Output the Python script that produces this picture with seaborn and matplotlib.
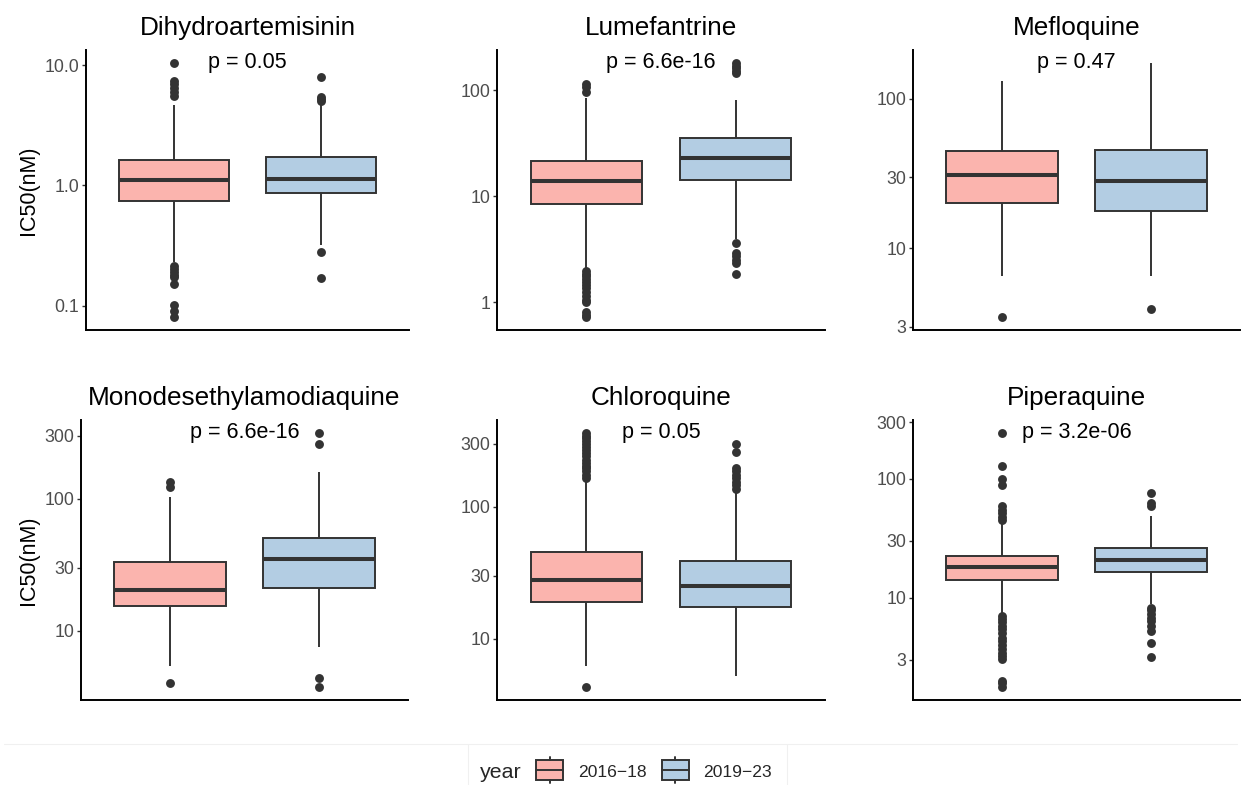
import matplotlib
matplotlib.use('Agg')
import matplotlib.pyplot as plt
from matplotlib.legend_handler import HandlerBase
from matplotlib.patches import Rectangle, Patch
from matplotlib.lines import Line2D
from matplotlib.ticker import NullLocator
import pandas as pd
import seaborn as sns

W, H = 1241, 785

YEARS = ['2016−18', '2019−23']
FILLS = ['#FBB4AE', '#B3CDE3']
EDGE = '#333333'

DRUGS = ['Dihydroartemisinin', 'Lumefantrine', 'Mefloquine',
         'Monodesethylamodiaquine', 'Chloroquine', 'Piperaquine']
P_LABELS = ['p = 0.05', 'p = 6.6e-16', 'p = 0.47',
            'p = 6.6e-16', 'p = 0.05', 'p = 3.2e-06']

# box statistics, one pair [2016-18, 2019-23] per drug
Q1 = [[0.74, 0.87], [8.4, 14.3], [20.0, 17.7], [15.4, 21.1], [18.9, 17.3], [14.2, 16.5]]
MEDIAN = [[1.10, 1.14], [13.8, 23.0], [30.8, 28.3], [20.3, 35.3], [27.7, 25.0], [18.0, 20.7]]
Q3 = [[1.62, 1.71], [21.6, 35.2], [44.8, 45.7], [33.3, 50.6], [45.1, 38.7], [22.3, 25.9]]
WHISK_LO = [[0.23, 0.32], [2.1, 3.9], [6.5, 6.5], [5.4, 7.5], [6.2, 5.2], [7.3, 8.8]]
WHISK_HI = [[4.7, 4.7], [84, 80], [131, 174], [104, 161], [156, 128], [42.6, 48.3]]

OUTLIERS = [
    [[0.080, 0.091, 0.101, 0.15, 0.172, 0.18, 0.19, 0.20, 0.214, 5.5, 6.0, 6.5, 7.0, 7.4, 10.5],
     [0.171, 0.28, 5.0, 5.2, 5.4, 8.0]],
    [[0.72, 0.75, 0.80, 1.0, 1.05, 1.15, 1.25, 1.35, 1.45, 1.55, 1.65, 1.75, 1.85, 1.95,
      96, 108, 113],
     [1.86, 2.35, 2.5, 2.7, 2.9, 3.6, 145, 152, 160, 170, 181]],
    [[3.47], [3.94]],
    [[4.04, 124, 135], [3.74, 4.37, 259, 317]],
    [[4.3, 165, 175, 185, 195, 205, 215, 225, 240, 255, 270, 285, 300, 315, 330, 345, 363],
     [135, 145, 155, 165, 175, 185, 195, 259, 297]],
    [[1.76, 1.9, 2.0, 3.05, 3.2, 3.4, 3.7, 4.0, 4.3, 4.6, 5.0, 5.4, 5.8, 6.2, 6.6, 7.0,
      45.3, 48, 51.5, 55, 58.6, 89, 99, 128, 244],
     [3.14, 4.14, 5.25, 5.8, 6.3, 6.8, 7.3, 7.8, 8.24, 58.6, 62.5, 75.9]],
]

TICKS = [[0.1, 1, 10], [1, 10, 100], [3, 10, 30, 100],
         [10, 30, 100, 300], [10, 30, 100, 300], [3, 10, 30, 100, 300]]
TICK_LABELS = [['0.1', '1.0', '10.0'], ['1', '10', '100'], ['3', '10', '30', '100'],
               ['10', '30', '100', '300'], ['10', '30', '100', '300'],
               ['3', '10', '30', '100', '300']]

# panel frames in pixels: left, right, top, bottom
PANELS_PX = [(86, 409, 50, 330), (497, 825, 50, 330), (913, 1240, 50, 330),
             (81, 408, 420, 700), (497, 825, 420, 700), (913, 1240, 420, 700)]

sns.set_theme(style='ticks')
plt.rcParams['font.family'] = ['Liberation Sans', 'DejaVu Sans']
plt.rcParams['axes.unicode_minus'] = False


class BoxKey(HandlerBase):
    """ggplot-like boxplot legend key, drawn a bit taller than the handle box."""
    def create_artists(self, legend, orig, x0, y0, width, height, fontsize, trans):
        yc = y0 + height / 2 + 0.05 * fontsize
        half_box = 0.57 * fontsize
        half_all = 0.75 * fontsize
        xm = x0 + width / 2
        kw = dict(color=EDGE, lw=1.4, transform=trans)
        rect = Rectangle((x0, yc - half_box), width, 2 * half_box,
                         facecolor=orig.get_facecolor(), edgecolor=EDGE, lw=1.4,
                         transform=trans)
        mid = Line2D([x0, x0 + width], [yc, yc], **kw)
        top = Line2D([xm, xm], [yc + half_box, yc + half_all], **kw)
        bot = Line2D([xm, xm], [yc - half_all, yc - half_box], **kw)
        return [rect, mid, top, bot]


def box_frame(i):
    rows = []
    for g, year in enumerate(YEARS):
        vals = [WHISK_LO[i][g], Q1[i][g], Q1[i][g], MEDIAN[i][g],
                Q3[i][g], Q3[i][g], WHISK_HI[i][g]]
        rows += [(year, v) for v in vals]
    return pd.DataFrame(rows, columns=['year', 'IC50'])


def outlier_frame(i):
    rows = []
    for g, year in enumerate(YEARS):
        rows += [(year, v) for v in OUTLIERS[i][g]]
    return pd.DataFrame(rows, columns=['year', 'IC50'])


fig = plt.figure(figsize=(W / 100, H / 100), dpi=100)

for i, drug in enumerate(DRUGS):
    l, r, t, b = PANELS_PX[i]
    ax = fig.add_axes([l / W, 1 - b / H, (r - l) / W, (b - t) / H])

    box_df = box_frame(i)
    out_df = outlier_frame(i)
    sns.boxplot(data=box_df, x='year', y='IC50', hue='year', order=YEARS,
                hue_order=YEARS, palette=FILLS, saturation=1, width=0.75,
                whis=(0, 100), showfliers=False, showcaps=False,
                linecolor=EDGE, linewidth=1.4, medianprops={'linewidth': 2.9},
                log_scale=True, legend=False, ax=ax)
    sns.stripplot(data=out_df, x='year', y='IC50', order=YEARS, jitter=False,
                  color=EDGE, size=6.4, linewidth=0, log_scale=True, ax=ax)

    ax.set_xlim(-0.6, 1.6)
    ax.set_xticks([])
    ax.set_xlabel('')
    ax.set_yticks(TICKS[i])
    ax.set_yticklabels(TICK_LABELS[i])
    ax.yaxis.set_minor_locator(NullLocator())
    ax.tick_params(axis='y', length=3, width=1, color=EDGE, labelcolor='#4D4D4D',
                   labelsize=12.8, pad=2)
    sns.despine(ax=ax)
    for side in ['left', 'bottom']:
        ax.spines[side].set_color('black')
        ax.spines[side].set_linewidth(1.4)

    if i % 3 == 0:
        ax.set_ylabel('IC50(nM)', fontsize=15.5, labelpad=4, color='black')
    else:
        ax.set_ylabel('')
    ax.set_title(drug, fontsize=18.8, pad=11, color='black')

    top_val = max(max(WHISK_HI[i]), max(max(o) for o in OUTLIERS[i]))
    ax.text(0.5, top_val, P_LABELS[i], ha='center', va='center', fontsize=15.5,
            color='black')

# legend strip at the bottom
fig.add_artist(Line2D([4 / W, 1237 / W], [1 - 744 / H] * 2, color='#f0f0f0', lw=0.8))
for xp in [468, 787]:
    fig.add_artist(Line2D([xp / W] * 2, [1 - 744 / H, 0], color='#f0f0f0', lw=0.8))

fig.text(480 / W, 1 - 772 / H, 'year', ha='left', va='center', fontsize=15.4)
handles = [Patch(facecolor=c) for c in FILLS]
fig.legend(handles=handles, labels=YEARS, handler_map={Patch: BoxKey()},
           loc='center left', bbox_to_anchor=(536 / W, 1 - 772 / H), ncol=2,
           frameon=False, fontsize=12.6, handlelength=1.55, handleheight=0.7,
           handletextpad=0.85, columnspacing=0.85, borderpad=0, borderaxespad=0)

fig.savefig('out.png', dpi=100)
